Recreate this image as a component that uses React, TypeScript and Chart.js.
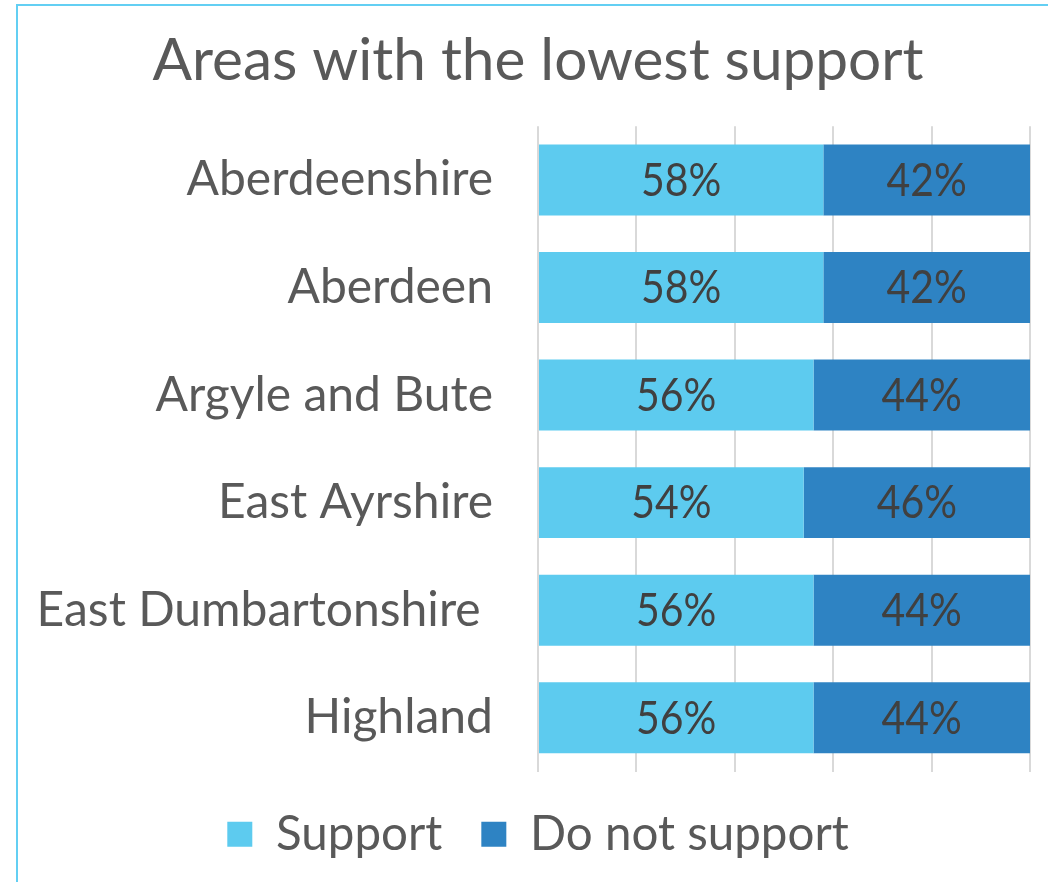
import React, { useEffect, useRef } from "react";
import { Chart, registerables } from "chart.js";

Chart.register(...registerables);

const categories = [
  "Aberdeenshire",
  "Aberdeen",
  "Argyle and Bute",
  "East Ayrshire",
  "East Dumbartonshire ",
  "Highland",
];
const supportValues = [58, 58, 56, 54, 56, 56];
const notSupportValues = [42, 42, 44, 46, 44, 44];
const seriesNames = ["Support", "Do not support"];
const titleText = "Areas with the lowest support";

const FONT = "Lato, 'Open Sans', sans-serif";

const dataLabelPlugin = {
  id: "dataLabels",
  afterLayout(chart: any) {
    // let long category labels extend into the left padding without being clipped
    if (chart.scales.y) chart.scales.y.left = 0;
  },
  afterDatasetsDraw(chart: any) {
    const ctx = chart.ctx;
    ctx.save();
    ctx.font = `46px ${FONT}`;
    ctx.fillStyle = "#404040";
    ctx.textAlign = "center";
    ctx.textBaseline = "middle";
    chart.data.datasets.forEach((ds: any, di: number) => {
      const meta = chart.getDatasetMeta(di);
      meta.data.forEach((bar: any, i: number) => {
        const cx = (bar.x + bar.base) / 2;
        const cy = bar.y + 1;
        ctx.save();
        ctx.translate(cx, cy);
        ctx.scale(0.89, 1);
        ctx.fillText(`${ds.data[i]}%`, 0, 0);
        ctx.restore();
      });
    });
    ctx.restore();
  },
};

export default function App() {
  const ref = useRef<HTMLCanvasElement>(null);
  useEffect(() => {
    if (!ref.current) return;
    const chart = new Chart(ref.current, {
      type: "bar",
      data: {
        labels: categories,
        datasets: [
          {
            label: seriesNames[0],
            data: supportValues,
            backgroundColor: "#5DCBEF",
            barPercentage: 0.66,
            categoryPercentage: 1,
          },
          {
            label: seriesNames[1],
            data: notSupportValues,
            backgroundColor: "#2E83C3",
            barPercentage: 0.66,
            categoryPercentage: 1,
          },
        ],
      },
      options: {
        indexAxis: "y",
        animation: false,
        responsive: false,
        maintainAspectRatio: false,
        layout: { padding: { left: 46, right: 18, top: 0, bottom: 14 } },
        scales: {
          x: {
            stacked: true,
            min: 0,
            max: 100,
            ticks: { display: false, stepSize: 20 },
            grid: { color: "#D9D9D9", lineWidth: 2, drawTicks: false },
            border: { display: false },
          },
          y: {
            stacked: true,
            ticks: {
              color: "#595959",
              font: { family: FONT, size: 48 },
              padding: 45,
            },
            grid: { display: false, drawTicks: false },
            border: { display: false },
            afterFit(scale: any) {
              scale.width = 492;
            },
          },
        },
        plugins: {
          title: {
            display: true,
            text: titleText,
            color: "#595959",
            font: { family: FONT, size: 58.5, weight: "normal" },
            padding: { top: 26, bottom: 30 },
          },
          legend: {
            position: "bottom",
            labels: {
              color: "#595959",
              font: { family: FONT, size: 47.5 },
              boxWidth: 25,
              boxHeight: 25,
              padding: 39,
              generateLabels(chart: any) {
                return chart.data.datasets.map((ds: any, i: number) => ({
                  text: ds.label,
                  fillStyle: ds.backgroundColor,
                  strokeStyle: ds.backgroundColor,
                  lineWidth: 0,
                  hidden: false,
                  datasetIndex: i,
                  fontColor: "#595959",
                }));
              },
            },
          },
          tooltip: { enabled: false },
        },
      },
      plugins: [dataLabelPlugin],
    });
    return () => chart.destroy();
  }, []);

  return (
    <div
      style={{
        position: "fixed",
        left: 0,
        top: 0,
        width: 1048,
        height: 882,
        overflow: "hidden",
        background: "#fff",
      }}
    >
      <div
        style={{
          position: "absolute",
          left: 16,
          top: 4,
          width: 1100,
          height: 1000,
          border: "2px solid #63CFF3",
          boxSizing: "border-box",
        }}
      />
      <canvas
        ref={ref}
        width={1048}
        height={882}
        style={{ position: "absolute", left: 0, top: 0 }}
      />
    </div>
  );
}
